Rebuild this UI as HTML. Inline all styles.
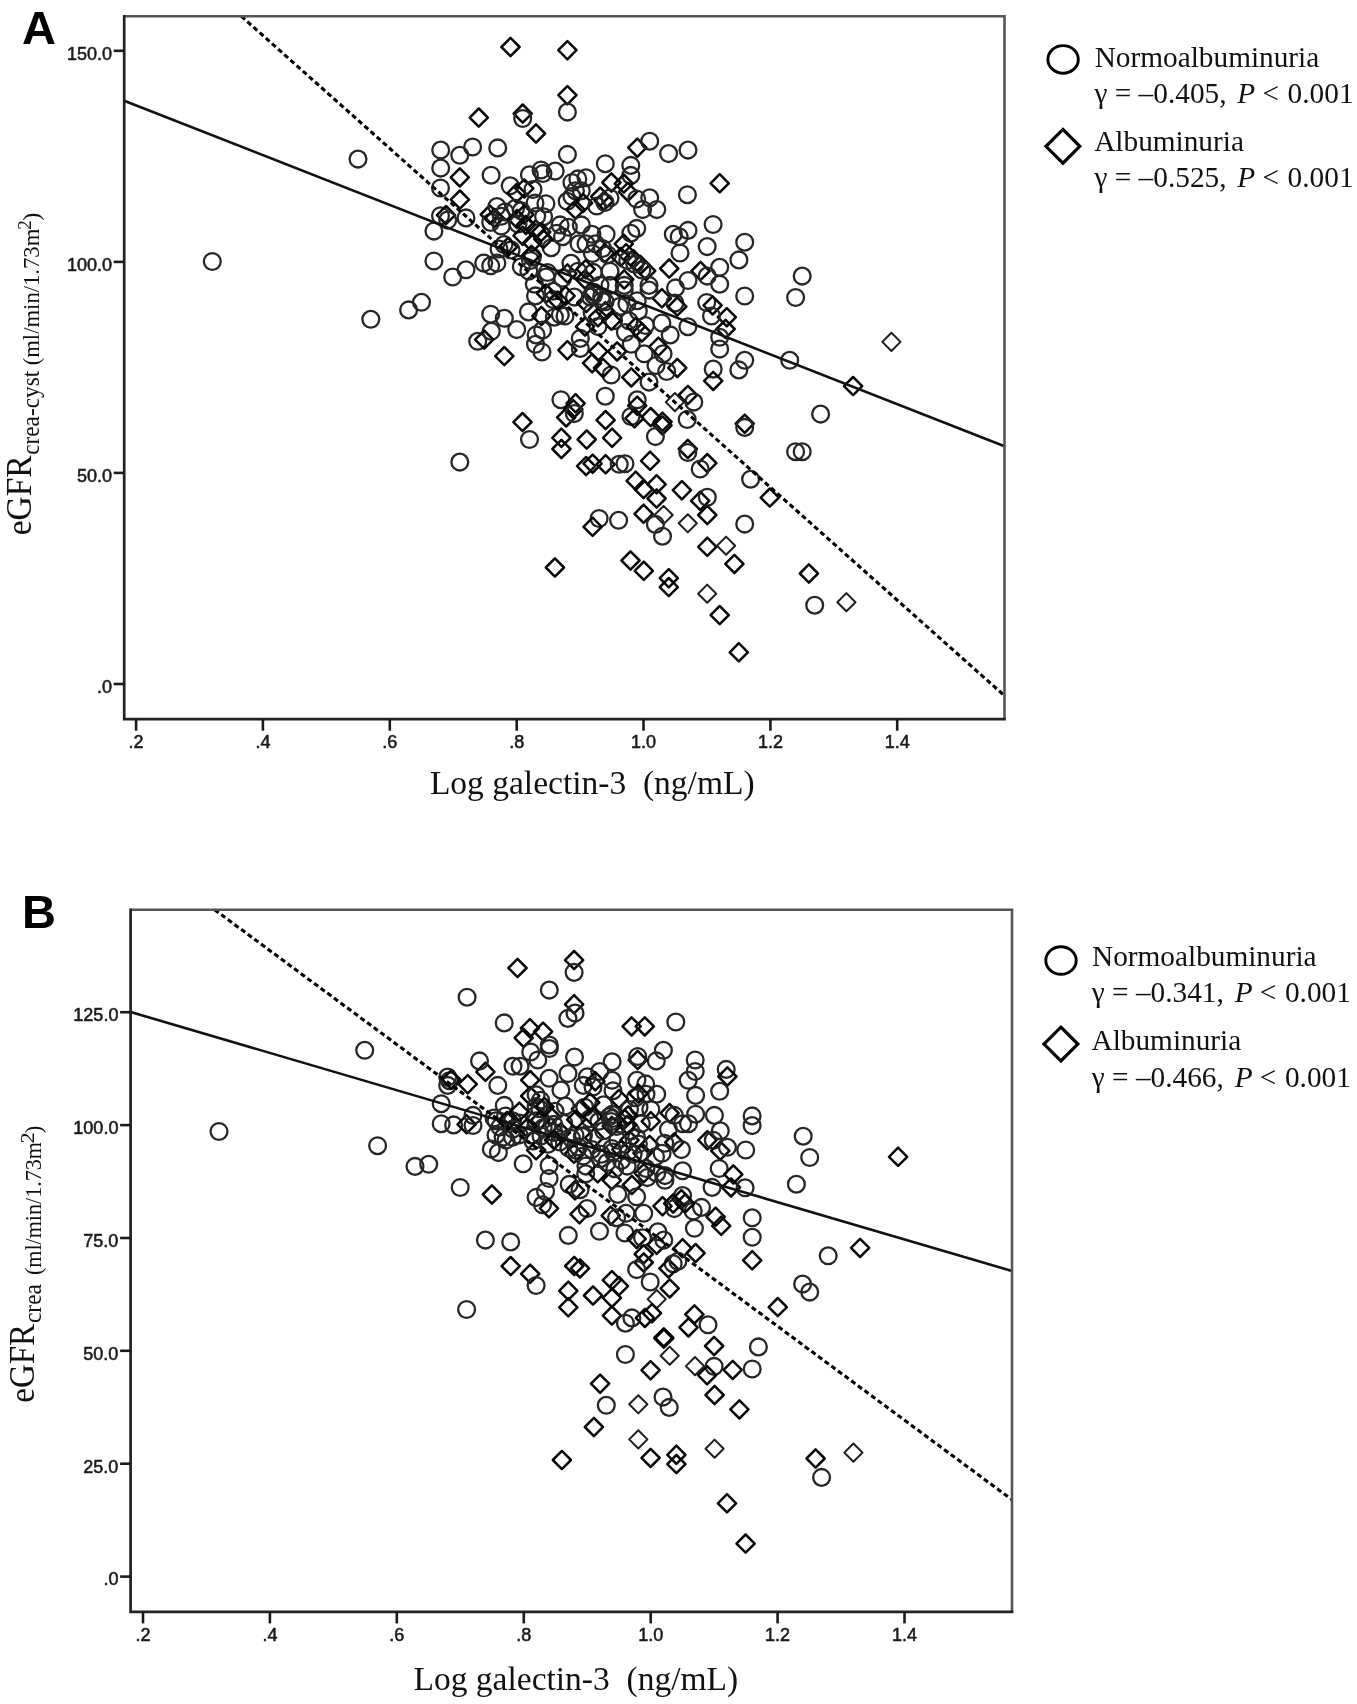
<!DOCTYPE html><html><head><meta charset="utf-8"><style>html,body{margin:0;padding:0;background:#fff;}svg{display:block;filter:grayscale(1);}</style></head><body><svg width="1357" height="1704" viewBox="0 0 1357 1704">
<rect width="100%" height="100%" fill="#fff"/>
<defs><circle id="c" r="8.4" fill="none" stroke="#262626" stroke-width="2.3"/><path id="d" d="M0-9.1L9.1 0L0 9.1L-9.1 0Z" fill="none" stroke="#080808" stroke-width="2.5" stroke-linejoin="round"/><path id="e" d="M0-9.1L9.1 0L0 9.1L-9.1 0Z" fill="none" stroke="#1e1e1e" stroke-width="2.0" stroke-linejoin="round"/><path id="D" d="M0-9.1L9.1 0L0 9.1L-9.1 0Z" fill="none" stroke="#000" stroke-width="3.4" stroke-linejoin="round"/><circle id="o" r="8.2" fill="none" stroke="#444" stroke-width="1.9"/></defs>
<g><use href="#c" x="212.3" y="261.5"/><use href="#c" x="358.0" y="159.1"/><use href="#c" x="370.8" y="319.3"/><use href="#c" x="408.6" y="309.9"/><use href="#c" x="421.5" y="302.3"/><use href="#c" x="433.9" y="231.1"/><use href="#c" x="433.9" y="261.0"/><use href="#c" x="466.0" y="269.8"/><use href="#c" x="452.7" y="277.0"/><use href="#c" x="440.5" y="188.0"/><use href="#d" x="459.9" y="199.6"/><use href="#c" x="440.5" y="215.7"/><use href="#d" x="446.0" y="215.1"/><use href="#c" x="447.7" y="220.1"/><use href="#c" x="466.0" y="217.9"/><use href="#d" x="510.5" y="47.0"/><use href="#d" x="567.4" y="50.2"/><use href="#d" x="567.4" y="95.2"/><use href="#c" x="567.4" y="112.1"/><use href="#d" x="478.8" y="117.6"/><use href="#d" x="522.7" y="113.6"/><use href="#c" x="522.7" y="118.5"/><use href="#d" x="536.0" y="133.5"/><use href="#c" x="440.7" y="150.1"/><use href="#c" x="459.8" y="155.3"/><use href="#c" x="472.6" y="147.0"/><use href="#c" x="497.7" y="147.9"/><use href="#c" x="567.4" y="154.4"/><use href="#c" x="605.3" y="163.7"/><use href="#c" x="440.7" y="168.1"/><use href="#d" x="459.8" y="177.4"/><use href="#c" x="491.1" y="175.2"/><use href="#c" x="529.4" y="174.8"/><use href="#c" x="541.0" y="170.0"/><use href="#c" x="543.0" y="173.5"/><use href="#c" x="555.2" y="171.1"/><use href="#c" x="510.2" y="185.8"/><use href="#d" x="524.3" y="188.4"/><use href="#d" x="516.4" y="193.3"/><use href="#c" x="483.7" y="263.1"/><use href="#c" x="490.7" y="265.8"/><use href="#c" x="496.9" y="263.1"/><use href="#d" x="489.8" y="214.5"/><use href="#c" x="496.9" y="206.6"/><use href="#c" x="490.7" y="222.5"/><use href="#d" x="494.5" y="218.0"/><use href="#c" x="501.3" y="216.3"/><use href="#c" x="501.3" y="226.0"/><use href="#c" x="505.0" y="212.0"/><use href="#c" x="515.5" y="208.3"/><use href="#d" x="524.3" y="214.5"/><use href="#d" x="517.0" y="219.0"/><use href="#c" x="518.0" y="224.0"/><use href="#d" x="522.6" y="235.7"/><use href="#d" x="532.3" y="242.8"/><use href="#d" x="535.8" y="229.5"/><use href="#c" x="535.0" y="203.0"/><use href="#c" x="536.7" y="216.3"/><use href="#c" x="504.0" y="244.6"/><use href="#c" x="511.1" y="249.9"/><use href="#d" x="508.0" y="247.0"/><use href="#c" x="499.0" y="249.0"/><use href="#c" x="528.8" y="271.1"/><use href="#c" x="530.5" y="260.5"/><use href="#d" x="637.3" y="147.7"/><use href="#c" x="649.7" y="141.2"/><use href="#c" x="668.6" y="153.6"/><use href="#c" x="630.8" y="165.4"/><use href="#c" x="630.8" y="175.4"/><use href="#c" x="687.4" y="194.7"/><use href="#c" x="571.9" y="182.5"/><use href="#c" x="577.8" y="178.9"/><use href="#c" x="586.0" y="177.7"/><use href="#c" x="575.4" y="190.7"/><use href="#c" x="581.3" y="190.7"/><use href="#c" x="567.2" y="201.3"/><use href="#c" x="571.9" y="196.6"/><use href="#d" x="575.4" y="209.6"/><use href="#d" x="583.0" y="203.0"/><use href="#d" x="611.4" y="182.5"/><use href="#d" x="623.8" y="183.6"/><use href="#d" x="627.9" y="191.9"/><use href="#d" x="600.2" y="196.6"/><use href="#d" x="604.0" y="201.0"/><use href="#c" x="596.7" y="206.0"/><use href="#c" x="604.9" y="202.5"/><use href="#c" x="610.0" y="198.0"/><use href="#c" x="636.7" y="199.0"/><use href="#c" x="649.7" y="197.8"/><use href="#c" x="642.6" y="209.6"/><use href="#c" x="656.8" y="209.6"/><use href="#c" x="533.0" y="189.5"/><use href="#c" x="545.9" y="203.7"/><use href="#c" x="543.6" y="216.7"/><use href="#c" x="521.2" y="210.8"/><use href="#d" x="525.9" y="224.9"/><use href="#d" x="541.2" y="232.0"/><use href="#c" x="560.1" y="224.9"/><use href="#c" x="556.6" y="233.2"/><use href="#c" x="562.5" y="236.7"/><use href="#c" x="568.3" y="227.3"/><use href="#c" x="581.3" y="224.9"/><use href="#c" x="591.9" y="234.3"/><use href="#c" x="606.1" y="234.3"/><use href="#c" x="579.0" y="243.8"/><use href="#c" x="586.0" y="243.8"/><use href="#c" x="595.5" y="243.8"/><use href="#c" x="602.5" y="248.5"/><use href="#d" x="604.9" y="253.2"/><use href="#c" x="636.7" y="228.4"/><use href="#c" x="630.8" y="233.2"/><use href="#d" x="623.8" y="243.8"/><use href="#d" x="626.1" y="253.2"/><use href="#d" x="633.2" y="259.1"/><use href="#d" x="640.3" y="265.0"/><use href="#d" x="646.2" y="270.9"/><use href="#c" x="673.3" y="234.3"/><use href="#c" x="679.2" y="236.7"/><use href="#c" x="680.0" y="253.0"/><use href="#d" x="669.2" y="268.5"/><use href="#c" x="688.0" y="150.1"/><use href="#d" x="719.7" y="183.3"/><use href="#c" x="713.1" y="224.5"/><use href="#c" x="688.0" y="230.4"/><use href="#c" x="707.2" y="246.6"/><use href="#c" x="744.7" y="242.2"/><use href="#d" x="700.5" y="271.0"/><use href="#c" x="707.2" y="276.1"/><use href="#c" x="719.7" y="267.3"/><use href="#c" x="738.9" y="259.9"/><use href="#c" x="688.0" y="280.5"/><use href="#c" x="675.5" y="287.9"/><use href="#c" x="719.7" y="284.2"/><use href="#c" x="802.2" y="276.1"/><use href="#c" x="744.7" y="296.0"/><use href="#c" x="795.6" y="297.5"/><use href="#e" x="891.4" y="341.9"/><use href="#c" x="744.7" y="360.3"/><use href="#c" x="738.8" y="369.9"/><use href="#c" x="789.7" y="360.3"/><use href="#d" x="853.1" y="386.1"/><use href="#c" x="820.6" y="414.1"/><use href="#d" x="744.7" y="423.7"/><use href="#c" x="744.7" y="427.4"/><use href="#c" x="795.6" y="451.7"/><use href="#c" x="802.2" y="451.7"/><use href="#c" x="750.6" y="479.2"/><use href="#d" x="769.8" y="497.6"/><use href="#c" x="744.7" y="524.1"/><use href="#d" x="734.4" y="563.9"/><use href="#d" x="808.9" y="573.5"/><use href="#c" x="814.7" y="605.2"/><use href="#e" x="846.4" y="602.2"/><use href="#d" x="738.8" y="652.3"/><use href="#c" x="490.7" y="314.2"/><use href="#c" x="504.3" y="318.3"/><use href="#c" x="491.3" y="331.3"/><use href="#c" x="516.7" y="329.6"/><use href="#c" x="477.7" y="341.3"/><use href="#d" x="484.2" y="339.6"/><use href="#d" x="504.3" y="356.1"/><use href="#c" x="528.4" y="311.9"/><use href="#c" x="535.5" y="295.9"/><use href="#d" x="541.4" y="316.0"/><use href="#c" x="536.1" y="334.9"/><use href="#c" x="542.6" y="330.1"/><use href="#c" x="535.5" y="344.3"/><use href="#c" x="542.0" y="352.0"/><use href="#c" x="554.4" y="317.2"/><use href="#c" x="560.3" y="314.8"/><use href="#c" x="565.0" y="316.0"/><use href="#d" x="567.4" y="350.2"/><use href="#c" x="580.3" y="338.4"/><use href="#c" x="580.3" y="348.4"/><use href="#d" x="592.1" y="363.2"/><use href="#c" x="574.4" y="297.1"/><use href="#d" x="586.2" y="303.0"/><use href="#d" x="585.0" y="326.6"/><use href="#c" x="592.1" y="312.5"/><use href="#c" x="534.3" y="284.2"/><use href="#c" x="546.1" y="277.1"/><use href="#d" x="546.1" y="293.6"/><use href="#c" x="553.2" y="291.2"/><use href="#c" x="553.2" y="299.5"/><use href="#d" x="557.9" y="300.7"/><use href="#c" x="562.6" y="278.3"/><use href="#d" x="567.4" y="273.5"/><use href="#c" x="578.0" y="271.2"/><use href="#d" x="585.0" y="279.4"/><use href="#c" x="593.3" y="272.4"/><use href="#c" x="600.0" y="285.3"/><use href="#d" x="598.0" y="317.2"/><use href="#c" x="598.0" y="326.6"/><use href="#c" x="560.9" y="399.7"/><use href="#d" x="575.6" y="403.3"/><use href="#d" x="573.3" y="409.2"/><use href="#d" x="566.2" y="417.4"/><use href="#d" x="522.5" y="422.1"/><use href="#d" x="661.9" y="298.3"/><use href="#c" x="674.9" y="303.1"/><use href="#d" x="677.3" y="306.6"/><use href="#c" x="706.7" y="302.5"/><use href="#d" x="712.6" y="305.4"/><use href="#d" x="726.8" y="317.2"/><use href="#d" x="725.6" y="329.0"/><use href="#c" x="711.5" y="316.0"/><use href="#c" x="719.7" y="337.3"/><use href="#c" x="719.7" y="349.1"/><use href="#c" x="687.9" y="326.7"/><use href="#c" x="661.9" y="323.1"/><use href="#c" x="670.2" y="334.9"/><use href="#c" x="713.2" y="369.1"/><use href="#d" x="713.2" y="380.9"/><use href="#c" x="605.3" y="396.2"/><use href="#c" x="637.2" y="399.8"/><use href="#d" x="637.2" y="405.7"/><use href="#d" x="687.9" y="395.0"/><use href="#e" x="674.9" y="402.1"/><use href="#c" x="693.8" y="402.1"/><use href="#d" x="677.3" y="367.9"/><use href="#c" x="666.7" y="371.5"/><use href="#c" x="649.0" y="382.1"/><use href="#d" x="631.3" y="377.4"/><use href="#c" x="656.0" y="365.6"/><use href="#c" x="663.1" y="353.8"/><use href="#d" x="658.4" y="346.7"/><use href="#c" x="644.2" y="353.8"/><use href="#c" x="631.3" y="344.3"/><use href="#d" x="617.1" y="351.4"/><use href="#d" x="598.3" y="351.4"/><use href="#c" x="611.2" y="375.0"/><use href="#d" x="603.0" y="367.9"/><use href="#c" x="592.4" y="253.5"/><use href="#c" x="607.7" y="254.7"/><use href="#d" x="620.7" y="257.1"/><use href="#c" x="627.7" y="260.6"/><use href="#c" x="634.8" y="264.2"/><use href="#c" x="641.9" y="270.0"/><use href="#c" x="610.0" y="271.2"/><use href="#c" x="610.0" y="285.4"/><use href="#c" x="624.2" y="285.4"/><use href="#d" x="624.2" y="279.5"/><use href="#c" x="624.2" y="290.1"/><use href="#c" x="649.0" y="285.4"/><use href="#c" x="649.0" y="290.1"/><use href="#c" x="637.2" y="300.7"/><use href="#c" x="619.5" y="306.6"/><use href="#c" x="601.8" y="300.7"/><use href="#d" x="605.3" y="311.3"/><use href="#c" x="638.3" y="311.3"/><use href="#c" x="613.6" y="320.8"/><use href="#c" x="628.9" y="320.8"/><use href="#c" x="625.4" y="332.5"/><use href="#d" x="636.0" y="326.7"/><use href="#d" x="641.9" y="332.5"/><use href="#c" x="645.4" y="325.5"/><use href="#c" x="574.3" y="413.6"/><use href="#d" x="605.6" y="420.1"/><use href="#c" x="631.0" y="416.5"/><use href="#d" x="634.5" y="418.3"/><use href="#c" x="529.5" y="439.5"/><use href="#d" x="561.4" y="437.8"/><use href="#d" x="561.4" y="449.0"/><use href="#d" x="586.7" y="439.5"/><use href="#d" x="612.1" y="437.8"/><use href="#d" x="586.1" y="466.1"/><use href="#d" x="592.6" y="463.7"/><use href="#d" x="605.6" y="464.3"/><use href="#c" x="619.2" y="464.3"/><use href="#c" x="625.0" y="463.7"/><use href="#d" x="635.7" y="480.8"/><use href="#c" x="599.1" y="518.5"/><use href="#d" x="592.6" y="526.8"/><use href="#c" x="618.6" y="520.3"/><use href="#d" x="650.7" y="417.1"/><use href="#d" x="662.5" y="421.8"/><use href="#d" x="662.5" y="425.4"/><use href="#c" x="655.4" y="436.6"/><use href="#c" x="687.2" y="419.5"/><use href="#d" x="687.8" y="449.0"/><use href="#c" x="687.8" y="452.5"/><use href="#d" x="650.1" y="460.8"/><use href="#d" x="707.3" y="463.1"/><use href="#c" x="700.2" y="469.0"/><use href="#d" x="643.6" y="489.1"/><use href="#d" x="656.6" y="484.3"/><use href="#d" x="656.6" y="498.5"/><use href="#d" x="681.9" y="490.2"/><use href="#d" x="700.2" y="500.8"/><use href="#c" x="707.3" y="497.3"/><use href="#d" x="707.3" y="515.0"/><use href="#d" x="643.6" y="513.8"/><use href="#e" x="663.6" y="515.0"/><use href="#c" x="655.4" y="524.4"/><use href="#c" x="662.5" y="536.2"/><use href="#e" x="687.8" y="523.3"/><use href="#d" x="707.3" y="546.8"/><use href="#e" x="726.1" y="545.7"/><use href="#c" x="459.8" y="462.1"/><use href="#d" x="554.9" y="567.5"/><use href="#d" x="630.5" y="560.5"/><use href="#d" x="643.8" y="570.8"/><use href="#d" x="668.8" y="578.2"/><use href="#d" x="668.8" y="587.1"/><use href="#e" x="707.2" y="593.7"/><use href="#d" x="719.7" y="615.1"/><use href="#c" x="571.0" y="263.3"/><use href="#c" x="532.4" y="257.1"/><use href="#d" x="531.5" y="254.9"/><use href="#d" x="585.7" y="269.2"/><use href="#d" x="565.6" y="295.8"/><use href="#c" x="547.5" y="272.5"/><use href="#c" x="594.0" y="292.4"/><use href="#c" x="521.3" y="266.7"/><use href="#c" x="551.2" y="247.7"/><use href="#c" x="626.9" y="303.8"/><use href="#c" x="601.7" y="296.5"/><use href="#d" x="543.3" y="239.1"/><use href="#c" x="605.1" y="301.8"/><use href="#c" x="593.5" y="295.2"/><use href="#d" x="611.4" y="320.7"/><use href="#c" x="590.4" y="296.9"/></g>
<line x1="124.2" y1="100.7" x2="1004.5" y2="446.3" stroke="#111" stroke-width="2.6"/>
<line x1="241.2" y1="16.2" x2="1004.5" y2="695.7" stroke="#000" stroke-width="3.1" stroke-dasharray="5 3.25"/>
<path d="M124.2 16.2H1004.5V719.2" fill="none" stroke="#555" stroke-width="2.6"/>
<path d="M124.2 14.899999999999999V719.2H1005.8" fill="none" stroke="#222" stroke-width="2.7"/>
<line x1="113.7" y1="50.8" x2="124.2" y2="50.8" stroke="#1a1a1a" stroke-width="2.6"/>
<text x="112.0" y="59.6" font-family="Liberation Sans" font-size="18" fill="#1a1a1a" stroke="#1a1a1a" stroke-width="0.55" text-anchor="end">150.0</text>
<line x1="113.7" y1="261.9" x2="124.2" y2="261.9" stroke="#1a1a1a" stroke-width="2.6"/>
<text x="112.0" y="270.7" font-family="Liberation Sans" font-size="18" fill="#1a1a1a" stroke="#1a1a1a" stroke-width="0.55" text-anchor="end">100.0</text>
<line x1="113.7" y1="472.9" x2="124.2" y2="472.9" stroke="#1a1a1a" stroke-width="2.6"/>
<text x="112.0" y="481.7" font-family="Liberation Sans" font-size="18" fill="#1a1a1a" stroke="#1a1a1a" stroke-width="0.55" text-anchor="end">50.0</text>
<line x1="113.7" y1="684.0" x2="124.2" y2="684.0" stroke="#1a1a1a" stroke-width="2.6"/>
<text x="112.0" y="692.8" font-family="Liberation Sans" font-size="18" fill="#1a1a1a" stroke="#1a1a1a" stroke-width="0.55" text-anchor="end">.0</text>
<line x1="136.1" y1="719.2" x2="136.1" y2="730.7" stroke="#1a1a1a" stroke-width="2.6"/>
<text x="136.1" y="747.8" font-family="Liberation Sans" font-size="18" fill="#1a1a1a" stroke="#1a1a1a" stroke-width="0.55" text-anchor="middle">.2</text>
<line x1="262.9" y1="719.2" x2="262.9" y2="730.7" stroke="#1a1a1a" stroke-width="2.6"/>
<text x="262.9" y="747.8" font-family="Liberation Sans" font-size="18" fill="#1a1a1a" stroke="#1a1a1a" stroke-width="0.55" text-anchor="middle">.4</text>
<line x1="389.8" y1="719.2" x2="389.8" y2="730.7" stroke="#1a1a1a" stroke-width="2.6"/>
<text x="389.8" y="747.8" font-family="Liberation Sans" font-size="18" fill="#1a1a1a" stroke="#1a1a1a" stroke-width="0.55" text-anchor="middle">.6</text>
<line x1="516.7" y1="719.2" x2="516.7" y2="730.7" stroke="#1a1a1a" stroke-width="2.6"/>
<text x="516.7" y="747.8" font-family="Liberation Sans" font-size="18" fill="#1a1a1a" stroke="#1a1a1a" stroke-width="0.55" text-anchor="middle">.8</text>
<line x1="643.5" y1="719.2" x2="643.5" y2="730.7" stroke="#1a1a1a" stroke-width="2.6"/>
<text x="643.5" y="747.8" font-family="Liberation Sans" font-size="18" fill="#1a1a1a" stroke="#1a1a1a" stroke-width="0.55" text-anchor="middle">1.0</text>
<line x1="770.4" y1="719.2" x2="770.4" y2="730.7" stroke="#1a1a1a" stroke-width="2.6"/>
<text x="770.4" y="747.8" font-family="Liberation Sans" font-size="18" fill="#1a1a1a" stroke="#1a1a1a" stroke-width="0.55" text-anchor="middle">1.2</text>
<line x1="897.2" y1="719.2" x2="897.2" y2="730.7" stroke="#1a1a1a" stroke-width="2.6"/>
<text x="897.2" y="747.8" font-family="Liberation Sans" font-size="18" fill="#1a1a1a" stroke="#1a1a1a" stroke-width="0.55" text-anchor="middle">1.4</text>
<g><use href="#c" x="219.0" y="1131.5"/><use href="#c" x="364.7" y="1050.3"/><use href="#c" x="377.6" y="1145.7"/><use href="#c" x="415.0" y="1166.4"/><use href="#c" x="428.7" y="1164.3"/><use href="#c" x="460.2" y="1187.5"/><use href="#c" x="466.6" y="1309.5"/><use href="#d" x="485.4" y="1071.8"/><use href="#c" x="447.7" y="1077.1"/><use href="#c" x="449.5" y="1080.7"/><use href="#d" x="451.2" y="1079.5"/><use href="#c" x="447.7" y="1085.4"/><use href="#d" x="467.7" y="1084.2"/><use href="#c" x="497.8" y="1085.4"/><use href="#c" x="441.2" y="1103.7"/><use href="#c" x="441.2" y="1123.7"/><use href="#c" x="453.6" y="1124.9"/><use href="#d" x="466.6" y="1124.3"/><use href="#c" x="473.0" y="1115.4"/><use href="#c" x="473.0" y="1125.5"/><use href="#c" x="504.3" y="1105.4"/><use href="#d" x="491.9" y="1194.5"/><use href="#c" x="523.2" y="1163.8"/><use href="#c" x="491.3" y="1149.1"/><use href="#c" x="498.4" y="1152.6"/><use href="#c" x="496.0" y="1120.8"/><use href="#c" x="505.5" y="1116.0"/><use href="#c" x="512.5" y="1120.8"/><use href="#c" x="519.6" y="1123.1"/><use href="#c" x="496.0" y="1134.9"/><use href="#c" x="503.1" y="1137.3"/><use href="#c" x="512.5" y="1137.3"/><use href="#c" x="574.5" y="1057.1"/><use href="#d" x="530.2" y="1080.1"/><use href="#d" x="530.2" y="1096.0"/><use href="#c" x="536.1" y="1094.8"/><use href="#c" x="536.1" y="1106.6"/><use href="#c" x="549.1" y="1078.3"/><use href="#c" x="568.0" y="1073.6"/><use href="#c" x="560.9" y="1090.1"/><use href="#c" x="583.3" y="1085.4"/><use href="#d" x="580.9" y="1109.0"/><use href="#c" x="555.0" y="1111.3"/><use href="#d" x="550.3" y="1116.0"/><use href="#c" x="536.1" y="1120.8"/><use href="#c" x="531.4" y="1134.9"/><use href="#c" x="543.2" y="1127.8"/><use href="#c" x="553.8" y="1132.5"/><use href="#d" x="560.9" y="1132.5"/><use href="#c" x="559.7" y="1142.0"/><use href="#c" x="547.9" y="1144.3"/><use href="#d" x="536.1" y="1150.2"/><use href="#c" x="571.5" y="1138.4"/><use href="#c" x="576.2" y="1150.2"/><use href="#d" x="573.9" y="1153.8"/><use href="#c" x="583.3" y="1156.1"/><use href="#c" x="549.1" y="1165.6"/><use href="#c" x="549.1" y="1178.5"/><use href="#c" x="536.1" y="1197.4"/><use href="#c" x="545.6" y="1191.5"/><use href="#c" x="569.2" y="1184.4"/><use href="#d" x="575.0" y="1190.3"/><use href="#c" x="585.7" y="1173.8"/><use href="#d" x="517.5" y="968.0"/><use href="#d" x="574.1" y="960.1"/><use href="#c" x="574.1" y="972.4"/><use href="#c" x="549.3" y="990.1"/><use href="#c" x="467.1" y="997.2"/><use href="#d" x="574.1" y="1004.3"/><use href="#c" x="575.0" y="1013.1"/><use href="#c" x="567.9" y="1018.4"/><use href="#c" x="504.2" y="1022.9"/><use href="#d" x="529.9" y="1028.2"/><use href="#d" x="543.1" y="1031.7"/><use href="#d" x="523.7" y="1037.9"/><use href="#c" x="549.3" y="1045.0"/><use href="#c" x="549.3" y="1048.5"/><use href="#c" x="530.7" y="1052.0"/><use href="#c" x="537.8" y="1060.0"/><use href="#c" x="520.1" y="1066.2"/><use href="#c" x="513.0" y="1066.2"/><use href="#c" x="479.5" y="1060.9"/><use href="#d" x="631.6" y="1026.4"/><use href="#d" x="644.8" y="1026.4"/><use href="#c" x="675.8" y="1022.0"/><use href="#c" x="663.4" y="1050.3"/><use href="#c" x="656.3" y="1060.9"/><use href="#d" x="637.7" y="1060.0"/><use href="#c" x="637.7" y="1056.5"/><use href="#c" x="612.1" y="1061.8"/><use href="#c" x="599.7" y="1071.5"/><use href="#c" x="587.3" y="1076.8"/><use href="#c" x="636.9" y="1080.3"/><use href="#c" x="645.7" y="1083.9"/><use href="#c" x="695.2" y="1060.0"/><use href="#c" x="695.2" y="1071.5"/><use href="#c" x="688.2" y="1080.3"/><use href="#c" x="612.1" y="1080.3"/><use href="#c" x="695.6" y="1095.4"/><use href="#c" x="726.2" y="1069.4"/><use href="#d" x="727.4" y="1076.5"/><use href="#c" x="719.7" y="1091.3"/><use href="#d" x="669.6" y="1113.1"/><use href="#c" x="674.3" y="1115.4"/><use href="#c" x="695.6" y="1114.2"/><use href="#c" x="714.4" y="1115.4"/><use href="#c" x="682.6" y="1123.7"/><use href="#c" x="688.5" y="1123.7"/><use href="#c" x="668.4" y="1129.6"/><use href="#d" x="707.4" y="1140.2"/><use href="#c" x="713.3" y="1140.2"/><use href="#c" x="720.3" y="1130.8"/><use href="#d" x="720.3" y="1150.8"/><use href="#c" x="727.4" y="1147.3"/><use href="#c" x="745.7" y="1150.0"/><use href="#d" x="674.3" y="1142.5"/><use href="#c" x="681.4" y="1149.6"/><use href="#c" x="682.6" y="1170.8"/><use href="#c" x="719.2" y="1168.5"/><use href="#d" x="733.3" y="1174.4"/><use href="#d" x="731.0" y="1187.4"/><use href="#c" x="712.1" y="1187.4"/><use href="#d" x="662.5" y="1206.2"/><use href="#d" x="681.4" y="1199.2"/><use href="#c" x="682.6" y="1195.6"/><use href="#c" x="674.3" y="1208.6"/><use href="#c" x="701.5" y="1207.4"/><use href="#c" x="693.2" y="1211.0"/><use href="#d" x="715.6" y="1216.8"/><use href="#c" x="593.0" y="1087.1"/><use href="#d" x="595.3" y="1081.2"/><use href="#c" x="613.0" y="1090.7"/><use href="#c" x="635.4" y="1097.7"/><use href="#c" x="646.0" y="1094.2"/><use href="#c" x="656.7" y="1094.2"/><use href="#d" x="618.9" y="1098.9"/><use href="#c" x="603.6" y="1104.8"/><use href="#c" x="584.7" y="1107.2"/><use href="#c" x="629.5" y="1109.5"/><use href="#c" x="639.0" y="1107.2"/><use href="#c" x="650.8" y="1109.5"/><use href="#d" x="650.8" y="1121.3"/><use href="#c" x="641.3" y="1123.7"/><use href="#d" x="624.8" y="1119.0"/><use href="#c" x="609.5" y="1116.6"/><use href="#c" x="598.9" y="1121.3"/><use href="#d" x="593.0" y="1116.6"/><use href="#d" x="594.2" y="1137.8"/><use href="#c" x="583.5" y="1135.5"/><use href="#c" x="603.6" y="1130.8"/><use href="#d" x="611.8" y="1126.0"/><use href="#c" x="617.7" y="1140.2"/><use href="#d" x="629.5" y="1140.2"/><use href="#c" x="636.6" y="1137.8"/><use href="#d" x="649.6" y="1144.9"/><use href="#c" x="591.8" y="1149.6"/><use href="#c" x="601.2" y="1154.3"/><use href="#c" x="613.0" y="1152.0"/><use href="#d" x="621.3" y="1149.6"/><use href="#c" x="633.1" y="1154.3"/><use href="#d" x="642.5" y="1153.2"/><use href="#c" x="655.5" y="1156.7"/><use href="#c" x="585.9" y="1166.1"/><use href="#d" x="597.7" y="1173.2"/><use href="#c" x="607.1" y="1162.6"/><use href="#c" x="627.2" y="1166.1"/><use href="#d" x="643.7" y="1173.2"/><use href="#c" x="646.0" y="1168.5"/><use href="#c" x="656.7" y="1173.2"/><use href="#c" x="664.9" y="1175.6"/><use href="#c" x="664.9" y="1180.3"/><use href="#d" x="611.8" y="1180.3"/><use href="#d" x="631.9" y="1185.0"/><use href="#c" x="636.6" y="1196.8"/><use href="#c" x="617.7" y="1194.4"/><use href="#c" x="587.1" y="1208.6"/><use href="#c" x="580.0" y="1189.7"/><use href="#d" x="610.7" y="1215.7"/><use href="#c" x="643.7" y="1213.3"/><use href="#c" x="626.0" y="1213.3"/><use href="#c" x="752.1" y="1115.9"/><use href="#c" x="752.1" y="1125.6"/><use href="#c" x="803.2" y="1136.2"/><use href="#c" x="809.7" y="1157.5"/><use href="#d" x="898.1" y="1156.8"/><use href="#c" x="745.1" y="1187.8"/><use href="#c" x="796.4" y="1184.2"/><use href="#d" x="721.2" y="1225.8"/><use href="#c" x="752.2" y="1217.8"/><use href="#c" x="752.2" y="1237.3"/><use href="#d" x="752.2" y="1260.3"/><use href="#c" x="828.2" y="1255.8"/><use href="#d" x="860.1" y="1247.9"/><use href="#c" x="802.6" y="1284.1"/><use href="#c" x="809.7" y="1292.1"/><use href="#d" x="777.8" y="1307.1"/><use href="#c" x="708.0" y="1324.8"/><use href="#d" x="714.1" y="1346.0"/><use href="#c" x="758.4" y="1346.9"/><use href="#c" x="714.1" y="1366.4"/><use href="#d" x="732.7" y="1369.9"/><use href="#c" x="752.2" y="1369.0"/><use href="#d" x="707.1" y="1375.2"/><use href="#d" x="579.5" y="1214.2"/><use href="#c" x="568.3" y="1235.4"/><use href="#c" x="599.5" y="1231.3"/><use href="#c" x="616.6" y="1217.7"/><use href="#c" x="624.9" y="1233.0"/><use href="#d" x="636.7" y="1238.9"/><use href="#c" x="642.5" y="1237.7"/><use href="#d" x="656.7" y="1244.8"/><use href="#c" x="657.9" y="1231.8"/><use href="#c" x="663.8" y="1240.1"/><use href="#d" x="643.7" y="1254.2"/><use href="#d" x="643.7" y="1262.5"/><use href="#c" x="636.7" y="1269.6"/><use href="#d" x="673.2" y="1203.5"/><use href="#d" x="685.0" y="1203.5"/><use href="#c" x="694.4" y="1228.3"/><use href="#d" x="682.6" y="1248.3"/><use href="#d" x="695.6" y="1253.1"/><use href="#c" x="673.2" y="1263.7"/><use href="#d" x="668.5" y="1268.4"/><use href="#c" x="677.9" y="1261.3"/><use href="#c" x="650.2" y="1282.0"/><use href="#d" x="669.7" y="1288.4"/><use href="#e" x="656.7" y="1299.1"/><use href="#d" x="574.2" y="1266.0"/><use href="#d" x="580.0" y="1268.4"/><use href="#d" x="611.9" y="1280.2"/><use href="#d" x="619.0" y="1286.1"/><use href="#d" x="568.3" y="1290.8"/><use href="#d" x="568.3" y="1307.3"/><use href="#d" x="593.0" y="1295.5"/><use href="#d" x="611.9" y="1297.9"/><use href="#d" x="611.9" y="1315.6"/><use href="#c" x="625.4" y="1323.2"/><use href="#c" x="631.9" y="1317.9"/><use href="#d" x="644.9" y="1317.9"/><use href="#d" x="652.0" y="1313.2"/><use href="#D" x="663.8" y="1338.0"/><use href="#d" x="694.4" y="1314.4"/><use href="#d" x="688.5" y="1327.4"/><use href="#c" x="625.4" y="1354.5"/><use href="#e" x="669.7" y="1355.7"/><use href="#c" x="542.5" y="1204.8"/><use href="#d" x="549.0" y="1208.3"/><use href="#c" x="485.4" y="1240.1"/><use href="#c" x="510.7" y="1241.9"/><use href="#d" x="510.7" y="1266.1"/><use href="#d" x="530.2" y="1273.8"/><use href="#c" x="536.1" y="1285.5"/><use href="#d" x="650.6" y="1370.2"/><use href="#e" x="695.0" y="1366.1"/><use href="#d" x="600.1" y="1383.7"/><use href="#c" x="606.3" y="1405.3"/><use href="#e" x="638.3" y="1404.3"/><use href="#c" x="663.0" y="1397.1"/><use href="#c" x="669.2" y="1407.4"/><use href="#d" x="714.6" y="1395.0"/><use href="#d" x="739.4" y="1409.4"/><use href="#d" x="593.9" y="1427.0"/><use href="#e" x="638.3" y="1439.4"/><use href="#d" x="650.6" y="1457.9"/><use href="#d" x="676.4" y="1454.8"/><use href="#d" x="676.4" y="1464.1"/><use href="#e" x="714.6" y="1448.7"/><use href="#d" x="561.9" y="1460.0"/><use href="#d" x="727.0" y="1503.3"/><use href="#d" x="745.6" y="1543.6"/><use href="#d" x="815.6" y="1458.5"/><use href="#c" x="821.6" y="1477.4"/><use href="#e" x="853.4" y="1452.6"/><use href="#c" x="638.4" y="1144.0"/><use href="#c" x="535.6" y="1115.2"/><use href="#d" x="540.2" y="1120.1"/><use href="#c" x="621.5" y="1160.4"/><use href="#c" x="662.1" y="1153.3"/><use href="#c" x="611.9" y="1148.6"/><use href="#c" x="647.3" y="1177.6"/><use href="#c" x="630.8" y="1130.9"/><use href="#c" x="614.8" y="1168.8"/><use href="#c" x="563.6" y="1123.2"/><use href="#d" x="519.3" y="1111.7"/><use href="#c" x="540.6" y="1100.2"/><use href="#c" x="539.9" y="1108.7"/><use href="#c" x="664.7" y="1143.3"/><use href="#c" x="600.2" y="1158.7"/><use href="#c" x="568.8" y="1148.1"/><use href="#d" x="544.5" y="1107.0"/><use href="#c" x="553.7" y="1124.4"/><use href="#c" x="565.4" y="1106.1"/><use href="#c" x="575.0" y="1135.4"/><use href="#c" x="628.7" y="1151.3"/><use href="#c" x="611.2" y="1121.6"/><use href="#c" x="612.3" y="1118.5"/><use href="#c" x="589.8" y="1118.7"/><use href="#d" x="638.4" y="1093.6"/><use href="#c" x="582.3" y="1136.6"/><use href="#c" x="578.4" y="1146.9"/><use href="#d" x="627.3" y="1124.9"/><use href="#d" x="576.2" y="1119.7"/><use href="#d" x="590.2" y="1102.5"/><use href="#c" x="612.1" y="1114.4"/><use href="#c" x="616.5" y="1126.4"/><use href="#d" x="628.0" y="1115.4"/><use href="#c" x="494.0" y="1118.0"/><use href="#c" x="500.0" y="1127.0"/><use href="#d" x="507.0" y="1121.0"/><use href="#c" x="513.0" y="1129.0"/><use href="#c" x="506.0" y="1140.0"/><use href="#c" x="519.0" y="1135.0"/><use href="#d" x="527.0" y="1128.0"/><use href="#c" x="533.0" y="1141.0"/><use href="#c" x="541.0" y="1136.0"/><use href="#c" x="547.0" y="1126.0"/><use href="#d" x="554.0" y="1140.0"/></g>
<line x1="130.6" y1="1012.0" x2="1012.0" y2="1271.0" stroke="#111" stroke-width="2.6"/>
<line x1="214.6" y1="909.7" x2="1012.0" y2="1499.7" stroke="#000" stroke-width="3.1" stroke-dasharray="5 3.25"/>
<path d="M130.6 909.7H1012.0V1611.9" fill="none" stroke="#555" stroke-width="2.6"/>
<path d="M130.6 908.4000000000001V1611.9H1013.3" fill="none" stroke="#222" stroke-width="2.7"/>
<line x1="120.1" y1="1012.2" x2="130.6" y2="1012.2" stroke="#1a1a1a" stroke-width="2.6"/>
<text x="118.4" y="1021.0" font-family="Liberation Sans" font-size="18" fill="#1a1a1a" stroke="#1a1a1a" stroke-width="0.55" text-anchor="end">125.0</text>
<line x1="120.1" y1="1125.1" x2="130.6" y2="1125.1" stroke="#1a1a1a" stroke-width="2.6"/>
<text x="118.4" y="1133.9" font-family="Liberation Sans" font-size="18" fill="#1a1a1a" stroke="#1a1a1a" stroke-width="0.55" text-anchor="end">100.0</text>
<line x1="120.1" y1="1238.0" x2="130.6" y2="1238.0" stroke="#1a1a1a" stroke-width="2.6"/>
<text x="118.4" y="1246.8" font-family="Liberation Sans" font-size="18" fill="#1a1a1a" stroke="#1a1a1a" stroke-width="0.55" text-anchor="end">75.0</text>
<line x1="120.1" y1="1350.8" x2="130.6" y2="1350.8" stroke="#1a1a1a" stroke-width="2.6"/>
<text x="118.4" y="1359.6" font-family="Liberation Sans" font-size="18" fill="#1a1a1a" stroke="#1a1a1a" stroke-width="0.55" text-anchor="end">50.0</text>
<line x1="120.1" y1="1463.7" x2="130.6" y2="1463.7" stroke="#1a1a1a" stroke-width="2.6"/>
<text x="118.4" y="1472.5" font-family="Liberation Sans" font-size="18" fill="#1a1a1a" stroke="#1a1a1a" stroke-width="0.55" text-anchor="end">25.0</text>
<line x1="120.1" y1="1576.6" x2="130.6" y2="1576.6" stroke="#1a1a1a" stroke-width="2.6"/>
<text x="118.4" y="1585.4" font-family="Liberation Sans" font-size="18" fill="#1a1a1a" stroke="#1a1a1a" stroke-width="0.55" text-anchor="end">.0</text>
<line x1="143.0" y1="1611.9" x2="143.0" y2="1623.4" stroke="#1a1a1a" stroke-width="2.6"/>
<text x="143.0" y="1640.5" font-family="Liberation Sans" font-size="18" fill="#1a1a1a" stroke="#1a1a1a" stroke-width="0.55" text-anchor="middle">.2</text>
<line x1="269.9" y1="1611.9" x2="269.9" y2="1623.4" stroke="#1a1a1a" stroke-width="2.6"/>
<text x="269.9" y="1640.5" font-family="Liberation Sans" font-size="18" fill="#1a1a1a" stroke="#1a1a1a" stroke-width="0.55" text-anchor="middle">.4</text>
<line x1="396.8" y1="1611.9" x2="396.8" y2="1623.4" stroke="#1a1a1a" stroke-width="2.6"/>
<text x="396.8" y="1640.5" font-family="Liberation Sans" font-size="18" fill="#1a1a1a" stroke="#1a1a1a" stroke-width="0.55" text-anchor="middle">.6</text>
<line x1="523.8" y1="1611.9" x2="523.8" y2="1623.4" stroke="#1a1a1a" stroke-width="2.6"/>
<text x="523.8" y="1640.5" font-family="Liberation Sans" font-size="18" fill="#1a1a1a" stroke="#1a1a1a" stroke-width="0.55" text-anchor="middle">.8</text>
<line x1="650.7" y1="1611.9" x2="650.7" y2="1623.4" stroke="#1a1a1a" stroke-width="2.6"/>
<text x="650.7" y="1640.5" font-family="Liberation Sans" font-size="18" fill="#1a1a1a" stroke="#1a1a1a" stroke-width="0.55" text-anchor="middle">1.0</text>
<line x1="777.6" y1="1611.9" x2="777.6" y2="1623.4" stroke="#1a1a1a" stroke-width="2.6"/>
<text x="777.6" y="1640.5" font-family="Liberation Sans" font-size="18" fill="#1a1a1a" stroke="#1a1a1a" stroke-width="0.55" text-anchor="middle">1.2</text>
<line x1="904.5" y1="1611.9" x2="904.5" y2="1623.4" stroke="#1a1a1a" stroke-width="2.6"/>
<text x="904.5" y="1640.5" font-family="Liberation Sans" font-size="18" fill="#1a1a1a" stroke="#1a1a1a" stroke-width="0.55" text-anchor="middle">1.4</text>
<text x="22" y="44.2" font-family="Liberation Sans" font-weight="bold" font-size="47" fill="#000">A</text>
<text x="22" y="927.9" font-family="Liberation Sans" font-weight="bold" font-size="47" fill="#000">B</text>
<text x="429.9" y="794.2" font-family="Liberation Serif" font-size="33.5" fill="#111" xml:space="preserve">Log galectin-3  (ng/mL)</text>
<text x="413.5" y="1689.8" font-family="Liberation Serif" font-size="33.5" fill="#111" xml:space="preserve">Log galectin-3  (ng/mL)</text>
<text transform="translate(31.4,535.34) rotate(-90)" font-family="Liberation Serif" font-size="35" fill="#111" textLength="79.86" lengthAdjust="spacingAndGlyphs">eGFR</text>
<text transform="translate(38.8,454.80) rotate(-90)" font-family="Liberation Serif" font-size="26" fill="#111" textLength="84.00" lengthAdjust="spacingAndGlyphs">crea-cyst</text>
<text transform="translate(38.5,365.34) rotate(-90)" font-family="Liberation Serif" font-size="24" fill="#111" textLength="136.69" lengthAdjust="spacingAndGlyphs">(ml/min/1.73m</text>
<text transform="translate(31.1,229.86) rotate(-90)" font-family="Liberation Serif" font-size="17.8" fill="#111" textLength="9.53" lengthAdjust="spacingAndGlyphs">2</text>
<text transform="translate(38.5,220.81) rotate(-90)" font-family="Liberation Serif" font-size="24" fill="#111" textLength="8.12" lengthAdjust="spacingAndGlyphs">)</text>
<text transform="translate(34.0,1402.72) rotate(-90)" font-family="Liberation Serif" font-size="35" fill="#111" textLength="78.74" lengthAdjust="spacingAndGlyphs">eGFR</text>
<text transform="translate(41.4,1323.00) rotate(-90)" font-family="Liberation Serif" font-size="26" fill="#111" textLength="38.84" lengthAdjust="spacingAndGlyphs">crea</text>
<text transform="translate(41.1,1275.01) rotate(-90)" font-family="Liberation Serif" font-size="24" fill="#111" textLength="132.85" lengthAdjust="spacingAndGlyphs">(ml/min/1.73m</text>
<text transform="translate(33.7,1143.50) rotate(-90)" font-family="Liberation Serif" font-size="17.8" fill="#111" textLength="11.16" lengthAdjust="spacingAndGlyphs">2</text>
<text transform="translate(41.1,1133.36) rotate(-90)" font-family="Liberation Serif" font-size="24" fill="#111" textLength="7.60" lengthAdjust="spacingAndGlyphs">)</text>
<ellipse cx="1063.1" cy="59.4" rx="15.2" ry="13.8" fill="none" stroke="#000" stroke-width="2.9"/><path d="M1062.9 129.4L1079.8000000000002 146.3L1062.9 163.20000000000002L1046.0 146.3Z" fill="none" stroke="#000" stroke-width="3.2"/><text x="1094.7" y="66.6" font-family="Liberation Serif" font-size="29.3" fill="#111">Normoalbuminuria</text><text x="1094.5" y="102.5" font-family="Liberation Serif" font-size="29.3" fill="#111">γ = –0.405, <tspan dx="3.5" font-style="italic">P</tspan> &lt; <tspan dx="1.2">0.001</tspan></text><text x="1094.2" y="150.6" font-family="Liberation Serif" font-size="29.3" fill="#111">Albuminuria</text><text x="1094.5" y="187.0" font-family="Liberation Serif" font-size="29.3" fill="#111">γ = –0.525, <tspan dx="3.5" font-style="italic">P</tspan> &lt; <tspan dx="1.2">0.001</tspan></text>
<ellipse cx="1061.0" cy="960.5" rx="15.2" ry="13.8" fill="none" stroke="#000" stroke-width="2.9"/><path d="M1060.9 1027.1999999999998L1077.8000000000002 1044.1L1060.9 1061.0L1044.0 1044.1Z" fill="none" stroke="#000" stroke-width="3.2"/><text x="1092.0" y="966.2" font-family="Liberation Serif" font-size="29.3" fill="#111">Normoalbuminuria</text><text x="1091.8" y="1002.1" font-family="Liberation Serif" font-size="29.3" fill="#111">γ = –0.341, <tspan dx="3.5" font-style="italic">P</tspan> &lt; <tspan dx="1.2">0.001</tspan></text><text x="1091.5" y="1050.2" font-family="Liberation Serif" font-size="29.3" fill="#111">Albuminuria</text><text x="1091.8" y="1086.6" font-family="Liberation Serif" font-size="29.3" fill="#111">γ = –0.466, <tspan dx="3.5" font-style="italic">P</tspan> &lt; <tspan dx="1.2">0.001</tspan></text>
</svg></body></html>
